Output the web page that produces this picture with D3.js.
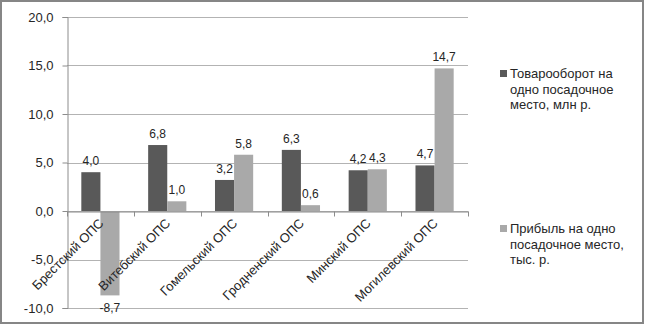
<!DOCTYPE html>
<html><head><meta charset="utf-8">
<script src="https://cdn.jsdelivr.net/npm/d3@7"></script>
<style>
body{margin:0;background:#fff;}
svg{display:block;font-family:"Liberation Sans",Arial,sans-serif;}
</style></head>
<body>
<svg id="chart" width="645" height="325"></svg>
<script>
const categories = ["Брестский ОПС","Витебский ОПС","Гомельский ОПС","Гродненский ОПС","Минский ОПС","Могилевский ОПС"];
const seriesNames = [["Товарооборот на","одно посадочное","место, млн р."],["Прибыль на одно","посадочное место,","тыс. р."]];
const turnover = [4.0, 6.8, 3.2, 6.3, 4.2, 4.7];
const profit = [-8.7, 1.0, 5.8, 0.6, 4.3, 14.7];
const yTicks = [-10, -5, 0, 5, 10, 15, 20];
const colors = ["#595959", "#a9a9a9"];

const svg = d3.select("#chart");
const fmt = v => d3.format(".1f")(v).replace(".", ",").replace("−","-");

svg.append("rect").attr("x",1).attr("y",1).attr("width",642).attr("height",322)
  .attr("fill","#fff").attr("stroke","#868686").attr("stroke-width",2);

const L = 67, R = 468, T = 17, B = 308;
const y = d3.scaleLinear().domain([-10, 20]).range([B, T]);
const x0 = d3.scaleBand().domain(categories).range([L, R]).paddingInner(0).paddingOuter(0);
const bw = x0.bandwidth() / 3.5;

// gridlines
svg.append("g").selectAll("line").data(yTicks).join("line")
  .attr("x1", L).attr("x2", R).attr("y1", d => Math.round(y(d)) + 0.5).attr("y2", d => Math.round(y(d)) + 0.5)
  .attr("stroke", "#b3b3b3").attr("stroke-width", 1);

// y axis
const yAxis = d3.axisLeft(y).tickValues(yTicks).tickSize(5).tickPadding(9).tickFormat(fmt);
const gy = svg.append("g").attr("transform", `translate(${L + 0.5},0)`).call(yAxis);
gy.select(".domain").attr("stroke", "#8c8c8c");
gy.selectAll(".tick line").attr("stroke", "#8c8c8c");
gy.selectAll(".tick text").attr("fill", "#262626").style("font-size", "13px").style("font-family", "Liberation Sans, Arial, sans-serif");

// bars
const series = [turnover, profit];
series.forEach((vals, si) => {
  svg.append("g").selectAll("rect").data(vals).join("rect")
    .attr("x", (d, i) => x0(categories[i]) + x0.bandwidth() / 2 - bw + si * bw)
    .attr("width", bw)
    .attr("y", d => y(Math.max(0, d)))
    .attr("height", d => Math.abs(y(d) - y(0)))
    .attr("fill", colors[si]);
});

// x axis
const xAxis = d3.axisBottom(x0).tickSize(0).tickFormat("");
const gx = svg.append("g").attr("transform", `translate(0,${Math.round(y(0)) + 0.5})`).call(xAxis);
gx.select(".domain").attr("stroke", "#8c8c8c");
const bounds = [L].concat(categories.map(c => x0(c) + x0.bandwidth()));
gx.selectAll(".sep").data(bounds).join("line").attr("class", "sep")
  .attr("x1", d => Math.round(d) + 0.5).attr("x2", d => Math.round(d) + 0.5)
  .attr("y1", 0).attr("y2", 5).attr("stroke", "#8c8c8c");

// category labels
svg.append("g").selectAll("text").data(categories).join("text")
  .attr("transform", c => `translate(${x0(c) + x0.bandwidth() / 2 + 4},${y(0) + 13}) rotate(-45)`)
  .attr("text-anchor", "end").attr("fill", "#262626").style("font-size", "13px")
  .text(c => c);

// data labels
series.forEach((vals, si) => {
  svg.append("g").selectAll("text").data(vals).join("text")
    .attr("x", (d, i) => x0(categories[i]) + x0.bandwidth() / 2 - bw / 2 + si * bw)
    .attr("y", d => d >= 0 ? y(d) - 7 : y(d) + 17)
    .attr("text-anchor", "middle").attr("fill", "#262626").style("font-size", "12px")
    .text(d => fmt(d));
});

// legend
const legY = [78, 233];
seriesNames.forEach((lines, si) => {
  const g = svg.append("g");
  g.append("rect").attr("x", 500).attr("y", legY[si] - 8).attr("width", 7).attr("height", 7).attr("fill", colors[si]);
  lines.forEach((t, li) => {
    g.append("text").attr("x", 510).attr("y", legY[si] + li * 15.5)
      .attr("fill", "#262626").style("font-size", "13px").text(t);
  });
});
</script>
</body></html>
